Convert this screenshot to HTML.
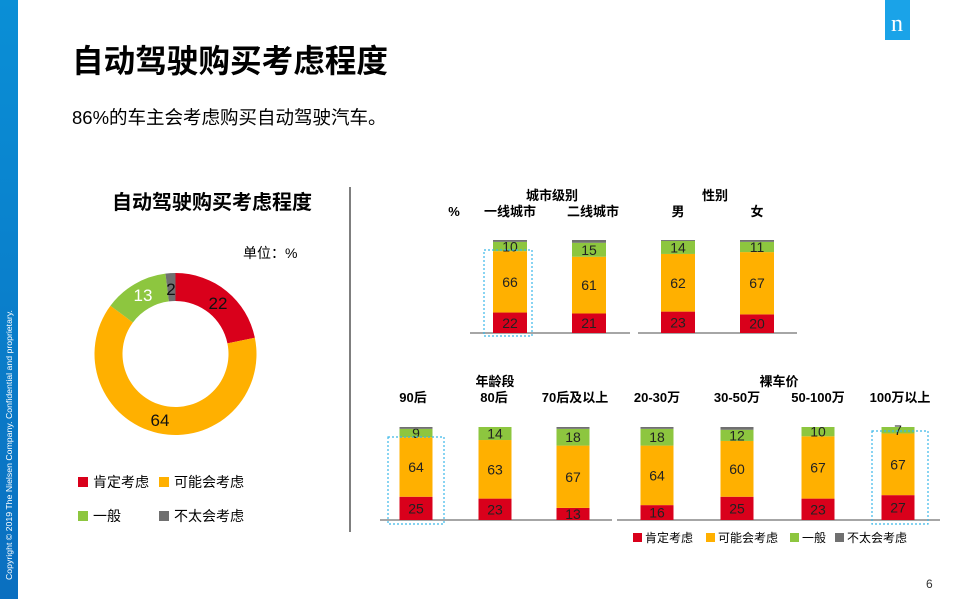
<!DOCTYPE html>
<html><head><meta charset="utf-8"><style>
body{margin:0;background:#fff;}
svg{display:block;font-family:"Liberation Sans","Noto Sans CJK SC",sans-serif;}
</style></head><body>
<svg width="959" height="599" viewBox="0 0 959 599" xmlns="http://www.w3.org/2000/svg">
<defs><linearGradient id="bl" x1="0" y1="0" x2="0" y2="1"><stop offset="0" stop-color="#0a8fd6"/><stop offset="1" stop-color="#0a6fc0"/></linearGradient></defs>
<rect x="0" y="0" width="18" height="599" fill="url(#bl)"/>
<text transform="translate(12,580) rotate(-90)" font-size="8" fill="#fff" textLength="270" lengthAdjust="spacingAndGlyphs">Copyright © 2019 The Nielsen Company. Confidential and proprietary.</text>
<rect x="885" y="0" width="25" height="40" fill="#1aa3e8"/>
<text x="897" y="31" font-size="24" fill="#fff" text-anchor="middle" font-family="Liberation Serif,serif">n</text>
<text x="72" y="72" font-size="32" font-weight="bold" fill="#000" textLength="316" lengthAdjust="spacingAndGlyphs">自动驾驶购买考虑程度</text>
<text x="72" y="124" font-size="18.5" fill="#000">86%的车主会考虑购买自动驾驶汽车。</text>
<text x="112" y="209" font-size="20" font-weight="bold">自动驾驶购买考虑程度</text>
<text x="243" y="258" font-size="14">单位：%</text>
<line x1="350" y1="187" x2="350" y2="532" stroke="#555" stroke-width="1.5"/>
<g id="donut"></g>
<g font-size="17" text-anchor="middle">
<text x="218" y="309" fill="#111">22</text>
<text x="160" y="426" fill="#111">64</text>
<text x="143" y="301" fill="#fff">13</text>
<text x="171" y="295" fill="#111">2</text>
</g>
<g font-size="14">
<rect x="78" y="477" width="10" height="10" fill="#d9001b"/><text x="93" y="487">肯定考虑</text>
<rect x="159" y="477" width="10" height="10" fill="#ffb000"/><text x="174" y="487">可能会考虑</text>
<rect x="78" y="511" width="10" height="10" fill="#8dc63f"/><text x="93" y="521">一般</text>
<rect x="159" y="511" width="10" height="10" fill="#707070"/><text x="174" y="521">不太会考虑</text>
</g>
<g font-size="13" font-weight="bold" text-anchor="middle">
<text x="552" y="200">城市级别</text><text x="454" y="216">%</text>
<text x="510" y="216">一线城市</text><text x="593" y="216">二线城市</text>
<text x="715" y="200">性别</text><text x="678" y="216">男</text><text x="757" y="216">女</text>
<text x="495" y="386">年龄段</text><text x="413" y="402">90后</text><text x="494" y="402">80后</text><text x="575" y="402">70后及以上</text>
<text x="779" y="386">裸车价</text><text x="657" y="402">20-30万</text><text x="737" y="402">30-50万</text><text x="818" y="402">50-100万</text><text x="900" y="402">100万以上</text>
</g>
<line x1="470" y1="333" x2="630" y2="333" stroke="#888" stroke-width="1.5"/>
<line x1="638" y1="333" x2="797" y2="333" stroke="#888" stroke-width="1.5"/>
<line x1="380" y1="520" x2="612" y2="520" stroke="#888" stroke-width="1.5"/>
<line x1="617" y1="520" x2="940" y2="520" stroke="#888" stroke-width="1.5"/>
<g id="bars"></g>
<rect x="484" y="250" width="48" height="86" fill="none" stroke="#3bb8e8" stroke-width="1.2" stroke-dasharray="2,2"/>
<rect x="388" y="437" width="56" height="87" fill="none" stroke="#3bb8e8" stroke-width="1.2" stroke-dasharray="2,2"/>
<rect x="872" y="431" width="56" height="93" fill="none" stroke="#3bb8e8" stroke-width="1.2" stroke-dasharray="2,2"/>
<g font-size="12">
<rect x="633" y="533" width="9" height="9" fill="#d9001b"/><text x="645" y="542">肯定考虑</text>
<rect x="706" y="533" width="9" height="9" fill="#ffb000"/><text x="718" y="542">可能会考虑</text>
<rect x="790" y="533" width="9" height="9" fill="#8dc63f"/><text x="802" y="542">一般</text>
<rect x="835" y="533" width="9" height="9" fill="#707070"/><text x="847" y="542">不太会考虑</text>
</g>
<text x="926" y="588" font-size="12" fill="#333">6</text>
<script>
var NS="http://www.w3.org/2000/svg";
function el(p,t,a,txt){var e=document.createElementNS(NS,t);for(var k in a)e.setAttribute(k,a[k]);if(txt!==undefined)e.textContent=txt;p.appendChild(e);return e;}
var C=["#d9001b","#ffb000","#8dc63f","#707070"];
var d=document.getElementById("donut"),cx=175.5,cy=354,R=81,r=53,vals=[22,64,13,2],tot=101,a0=0;
vals.forEach(function(v,i){var a1=a0+v/tot*2*Math.PI;
function pt(rr,a){return [cx+rr*Math.sin(a),cy-rr*Math.cos(a)];}
var p1=pt(R,a0),p2=pt(R,a1),p3=pt(r,a1),p4=pt(r,a0),lg=(a1-a0)>Math.PI?1:0;
el(d,"path",{d:"M"+p1+"A"+R+","+R+" 0 "+lg+" 1 "+p2+"L"+p3+"A"+r+","+r+" 0 "+lg+" 0 "+p4+"Z",fill:C[i]});
a0=a1;});
var b=document.getElementById("bars");
function bar(cx,w,base,H,v){var s=v[0]+v[1]+v[2];var g=Math.max(0,100-s);var all=[v[0],v[1],v[2],g];var T=s+g;var y=base;
all.forEach(function(x,i){if(x<=0)return;var h=x/T*H;y-=h;el(b,"rect",{x:cx-w/2,y:y,width:w,height:h,fill:C[i]});
if(i<3)el(b,"text",{x:cx,y:y+h/2+5,"font-size":14,"text-anchor":"middle",fill:"#222"},String(x));});}
[[510,[22,66,10]],[589,[21,61,15]],[678,[23,62,14]],[757,[20,67,11]]].forEach(function(q){bar(q[0],34,333,93,q[1]);});
[[416,[25,64,9]],[495,[23,63,14]],[573,[13,67,18]],[657,[16,64,18]],[737,[25,60,12]],[818,[23,67,10]],[898,[27,67,7]]].forEach(function(q){bar(q[0],33,520,93,q[1]);});
</script>
</svg>
</body></html>
